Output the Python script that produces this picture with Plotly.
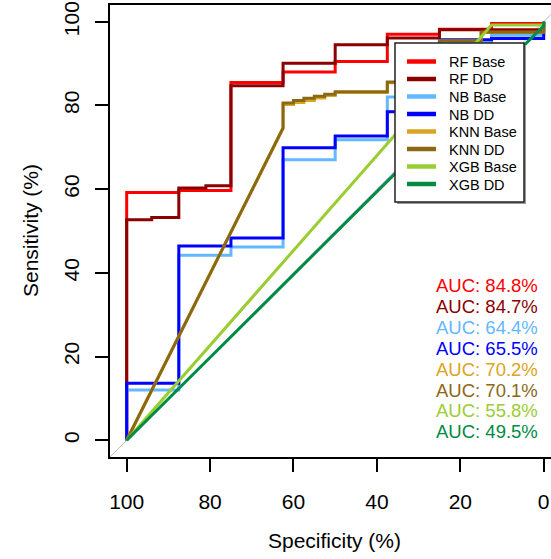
import plotly.graph_objects as go

# ---------------- data ----------------
model_names = ["RF Base", "RF DD", "NB Base", "NB DD", "KNN Base", "KNN DD", "XGB Base", "XGB DD"]
colors = ["#FF0000", "#8B0000", "#63B8FF", "#0000FF", "#DAA520", "#8B6914", "#9ACD32", "#008B45"]
auc_values = [84.8, 84.7, 64.4, 65.5, 70.2, 70.1, 55.8, 49.5]

rf_base_spec = [100, 100, 87.5, 87.5, 75, 75, 62.5, 62.5, 50, 50, 37.5, 37.5, 25, 25, 12.5, 12.5, 0, 0]
rf_base_sens = [0, 59.2, 59.2, 59.7, 59.7, 85.5, 85.5, 88.0, 88.0, 90.5, 90.5, 97.0, 97.0, 98.2, 98.2, 99.6, 99.6, 100]

rf_dd_spec = [100, 100, 94, 94, 87.5, 87.5, 81, 81, 75, 75, 62.5, 62.5, 50, 50, 37.5, 37.5, 25, 25, 0, 0]
rf_dd_sens = [0, 52.7, 52.7, 53.2, 53.2, 60.3, 60.3, 60.8, 60.8, 84.7, 84.7, 90.1, 90.1, 94.5, 94.5, 96.1, 96.1, 98.1, 98.1, 100]

nb_base_spec = [100, 100, 87.5, 87.5, 75, 75, 62.5, 62.5, 50, 50, 37.5, 37.5, 25, 25, 12.5, 12.5, 0, 0]
nb_base_sens = [0, 12.0, 12.0, 44.2, 44.2, 46.2, 46.2, 67.0, 67.0, 71.8, 71.8, 82.0, 82.0, 95.0, 95.0, 96.8, 96.8, 100]

nb_dd_spec = [100, 100, 87.5, 87.5, 75, 75, 62.5, 62.5, 50, 50, 37.5, 37.5, 25, 25, 12.5, 12.5, 0, 0]
nb_dd_sens = [0, 13.6, 13.6, 46.4, 46.4, 48.3, 48.3, 69.9, 69.9, 72.7, 72.7, 78.5, 78.5, 95.7, 95.7, 96.0, 96.0, 100]

knn_base_spec = [100, 62.5, 62.5, 60, 60, 57.5, 57.5, 55, 55, 52.5, 52.5, 50, 50, 37.5, 37.5, 33, 33, 25, 25, 15, 15, 0, 0]
knn_base_sens = [0, 74.6, 80.2, 80.2, 80.7, 80.7, 81.2, 81.2, 81.8, 81.8, 82.4, 82.4, 83.1, 83.1, 85.4, 85.4, 93.0, 93.0, 95.5, 95.5, 97.5, 97.5, 100]

knn_dd_spec = [100, 62.5, 62.5, 60, 60, 57.5, 57.5, 55, 55, 52.5, 52.5, 50, 50, 37.5, 37.5, 33, 33, 25, 25, 15, 15, 0, 0]
knn_dd_sens = [0, 74.6, 80.6, 80.6, 81.2, 81.2, 81.7, 81.7, 82.2, 82.2, 82.7, 82.7, 83.3, 83.3, 85.6, 85.6, 93.0, 93.0, 95.5, 95.5, 97.5, 97.5, 100]

xgb_base_spec = [100, 12.5, 0, 0]
xgb_base_sens = [0, 99.2, 99.2, 100]

xgb_dd_spec = [100, 0, 0]
xgb_dd_sens = [0, 99, 100]

curves_spec = [rf_base_spec, rf_dd_spec, nb_base_spec, nb_dd_spec, knn_base_spec, knn_dd_spec, xgb_base_spec, xgb_dd_spec]
curves_sens = [rf_base_sens, rf_dd_sens, nb_base_sens, nb_dd_sens, knn_base_sens, knn_dd_sens, xgb_base_sens, xgb_dd_sens]

axis_ticks = [100, 80, 60, 40, 20, 0]
auc_label_y = [37, 32, 27, 22, 17, 12, 7, 2]

# ---------------- layout geometry ----------------
W, H = 551, 559
ML, MR, MT, MB = 110, 0, 5, 102
PW, PH = W - ML - MR, H - MT - MB
FONT = "Liberation Sans, Arial, sans-serif"


def px_x(px):
    return (px - ML) / PW


def px_y(py):
    return (H - MB - py) / PH


fig = go.Figure()

# identity (chance) line
fig.add_trace(go.Scatter(x=[110, -10], y=[-10, 110], mode="lines",
                         line=dict(color="#BEBEBE", width=1), hoverinfo="skip", showlegend=False))

for name, col, sx, sy in zip(model_names, colors, curves_spec, curves_sens):
    fig.add_trace(go.Scatter(x=sx, y=sy, mode="lines", name=name,
                             line=dict(color=col, width=3), showlegend=False))

annotations = []
# AUC labels
for name, col, auc, yy in zip(model_names, colors, auc_values, auc_label_y):
    annotations.append(dict(x=0.9, y=yy, xref="x", yref="y", xanchor="right", yanchor="middle",
                            text=f"AUC: {auc:.1f}%", showarrow=False,
                            font=dict(family=FONT, size=18.5, color=col)))

# axis titles
annotations.append(dict(x=px_x(334), y=0, xref="paper", yref="paper", yshift=-83,
                        xanchor="center", yanchor="middle", text="Specificity (%)", showarrow=False,
                        font=dict(family=FONT, size=21, color="black")))
annotations.append(dict(x=0, y=0.5, xref="paper", yref="paper", xshift=30 - ML,
                        xanchor="center", yanchor="middle", text="Sensitivity (%)", textangle=-90,
                        showarrow=False, font=dict(family=FONT, size=21, color="black")))

shapes = []
# legend box
lx0, lx1, ly0, ly1 = 395, 524, 43, 202
shapes.append(dict(type="rect", xref="paper", yref="paper", x0=px_x(lx0 + 2), x1=px_x(lx1 + 2),
                   y0=px_y(ly1 + 2), y1=px_y(ly0 + 2), fillcolor="#9A9A9A", line=dict(width=0), layer="above"))
shapes.append(dict(type="rect", xref="paper", yref="paper", x0=px_x(lx0), x1=px_x(lx1),
                   y0=px_y(ly1), y1=px_y(ly0), fillcolor="white", line=dict(color="#222222", width=1.5),
                   layer="above"))
for i, (name, col) in enumerate(zip(model_names, colors)):
    yy = 61.5 + 17.5 * i
    shapes.append(dict(type="line", xref="paper", yref="paper", x0=px_x(407), x1=px_x(436),
                       y0=px_y(yy), y1=px_y(yy), line=dict(color=col, width=4.5), layer="above"))
    annotations.append(dict(x=px_x(447), y=px_y(yy + 0.5), xref="paper", yref="paper", xanchor="left",
                            yanchor="middle", text=name, showarrow=False,
                            font=dict(family=FONT, size=14.5, color="black")))

fig.update_layout(
    width=W, height=H, margin=dict(l=ML, r=MR, t=MT, b=MB, pad=0),
    paper_bgcolor="white", plot_bgcolor="white", showlegend=False,
    annotations=annotations, shapes=shapes,
    xaxis=dict(range=[104, -1.75], tickvals=axis_ticks, ticktext=[str(t) for t in axis_ticks],
               ticks="outside", ticklen=13, tickwidth=1.5, tickcolor="black",
               showline=True, linecolor="black", linewidth=1.5, mirror=True,
               showgrid=False, zeroline=False, ticklabelstandoff=12,
               tickfont=dict(family=FONT, size=21, color="black")),
    yaxis=dict(range=[-4, 104], tickvals=axis_ticks, ticktext=[str(t) for t in axis_ticks],
               tickangle=-90, ticks="outside", ticklen=13, tickwidth=1.5, tickcolor="black",
               showline=True, linecolor="black", linewidth=1.5, mirror=False,
               showgrid=False, zeroline=False, ticklabelstandoff=8,
               tickfont=dict(family=FONT, size=21, color="black")),
)

fig.write_html("out.html")
